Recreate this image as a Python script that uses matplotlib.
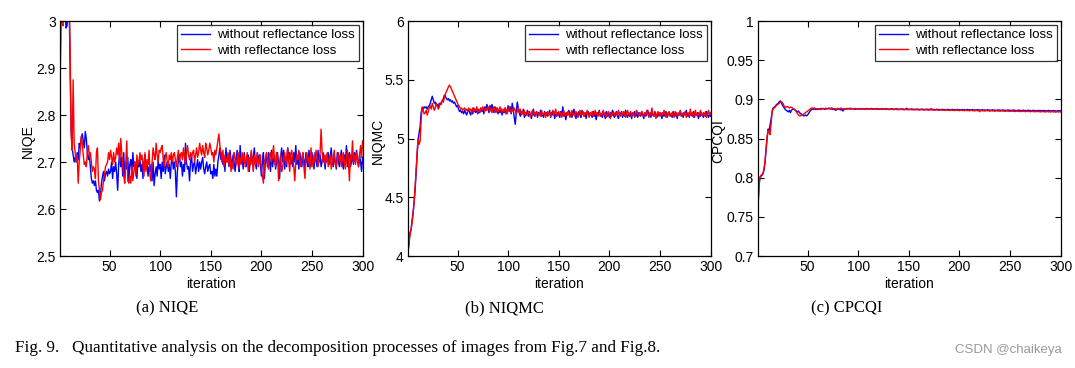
import numpy as np
import matplotlib
matplotlib.use("Agg")
import matplotlib.pyplot as plt

plt.rcParams['font.family'] = ['Liberation Sans', 'DejaVu Sans']

# NIQE, without / with reflectance loss
niqe_without = [
    2.843, 3.05, 3.10, 3.08, 3.06, 3.02, 2.985, 2.99, 3.03, 3.05,
    2.90, 2.77, 2.73, 2.715, 2.70, 2.71, 2.70, 2.72, 2.705, 2.74,
    2.73, 2.75, 2.76, 2.745, 2.73, 2.765, 2.75, 2.72, 2.705, 2.715,
    2.69, 2.665, 2.655, 2.66, 2.65, 2.66, 2.64, 2.635, 2.64, 2.617,
    2.63, 2.655, 2.67, 2.68, 2.66, 2.675, 2.68, 2.67, 2.685, 2.675,
    2.68, 2.70, 2.665, 2.69, 2.68, 2.70, 2.675, 2.64, 2.695, 2.72,
    2.69, 2.71, 2.67, 2.72, 2.665, 2.70, 2.685, 2.71, 2.66, 2.695,
    2.705, 2.675, 2.72, 2.69, 2.70, 2.68, 2.665, 2.70, 2.69, 2.705,
    2.68, 2.695, 2.665, 2.70, 2.715, 2.685, 2.70, 2.67, 2.69, 2.68,
    2.695, 2.66, 2.70, 2.65, 2.675, 2.69, 2.67, 2.705, 2.685, 2.695,
    2.665, 2.70, 2.68, 2.715, 2.675, 2.69, 2.70, 2.68, 2.695, 2.665,
    2.70, 2.71, 2.685, 2.70, 2.68, 2.626, 2.68, 2.705, 2.715, 2.69,
    2.70, 2.67, 2.695, 2.68, 2.74, 2.70, 2.685, 2.69, 2.66, 2.70,
    2.715, 2.68, 2.695, 2.70, 2.675, 2.69, 2.705, 2.68, 2.70, 2.685,
    2.70, 2.71, 2.685, 2.675, 2.69, 2.70, 2.68, 2.69, 2.695, 2.675,
    2.68, 2.665, 2.695, 2.67, 2.685, 2.67, 2.70, 2.715, 2.73, 2.705,
    2.72, 2.695, 2.71, 2.68, 2.73, 2.70, 2.715, 2.69, 2.725, 2.705,
    2.69, 2.715, 2.70, 2.68, 2.70, 2.725, 2.695, 2.68, 2.735, 2.70,
    2.71, 2.685, 2.72, 2.70, 2.69, 2.705, 2.715, 2.68, 2.70, 2.72,
    2.695, 2.71, 2.73, 2.70, 2.685, 2.72, 2.70, 2.715, 2.695, 2.67,
    2.70, 2.72, 2.665, 2.705, 2.71, 2.69, 2.72, 2.70, 2.68, 2.725,
    2.69, 2.705, 2.715, 2.685, 2.70, 2.72, 2.695, 2.665, 2.71, 2.73,
    2.70, 2.725, 2.685, 2.71, 2.69, 2.73, 2.705, 2.72, 2.695, 2.71,
    2.69, 2.72, 2.70, 2.735, 2.695, 2.71, 2.685, 2.72, 2.70, 2.69,
    2.715, 2.705, 2.685, 2.72, 2.70, 2.69, 2.725, 2.705, 2.69, 2.72,
    2.70, 2.685, 2.72, 2.705, 2.69, 2.725, 2.70, 2.715, 2.69, 2.70,
    2.72, 2.705, 2.685, 2.715, 2.70, 2.72, 2.695, 2.71, 2.73, 2.70,
    2.69, 2.715, 2.70, 2.685, 2.72, 2.705, 2.69, 2.71, 2.725, 2.70,
    2.685, 2.715, 2.70, 2.735, 2.69, 2.71, 2.72, 2.69, 2.70, 2.715,
    2.695, 2.72, 2.70, 2.725, 2.705, 2.69, 2.715, 2.70, 2.68, 2.71,
]
niqe_with = [
    2.843, 3.02, 2.995, 2.99, 3.03, 3.05, 3.06, 3.04, 3.03, 3.06,
    2.94, 2.76, 2.725, 2.875, 2.74, 2.72, 2.70, 2.715, 2.655, 2.70,
    2.725, 2.755, 2.74, 2.715, 2.695, 2.70, 2.69, 2.72, 2.735, 2.71,
    2.72, 2.70, 2.68, 2.69, 2.685, 2.665, 2.72, 2.73, 2.66, 2.64,
    2.62, 2.635, 2.64, 2.66, 2.675, 2.69, 2.695, 2.70, 2.72, 2.705,
    2.725, 2.71, 2.695, 2.72, 2.70, 2.71, 2.73, 2.715, 2.74, 2.70,
    2.75, 2.72, 2.69, 2.67, 2.655, 2.70, 2.745, 2.66, 2.655, 2.67,
    2.655, 2.69, 2.66, 2.68, 2.70, 2.67, 2.715, 2.695, 2.70, 2.72,
    2.705, 2.715, 2.69, 2.67, 2.72, 2.68, 2.705, 2.695, 2.725, 2.67,
    2.66, 2.70, 2.73, 2.715, 2.705, 2.74, 2.715, 2.70, 2.725, 2.72,
    2.73, 2.735, 2.705, 2.69, 2.71, 2.72, 2.70, 2.69, 2.715, 2.705,
    2.72, 2.70, 2.715, 2.72, 2.705, 2.69, 2.71, 2.725, 2.70, 2.715,
    2.72, 2.705, 2.73, 2.71, 2.695, 2.72, 2.735, 2.715, 2.705, 2.72,
    2.71, 2.72, 2.725, 2.70, 2.715, 2.73, 2.71, 2.72, 2.74, 2.725,
    2.715, 2.735, 2.72, 2.71, 2.74, 2.73, 2.715, 2.725, 2.74, 2.73,
    2.715, 2.72, 2.70, 2.725, 2.715, 2.73, 2.745, 2.76, 2.735, 2.72,
    2.70, 2.725, 2.69, 2.715, 2.705, 2.70, 2.72, 2.695, 2.715, 2.68,
    2.70, 2.685, 2.72, 2.71, 2.695, 2.705, 2.72, 2.685, 2.71, 2.695,
    2.72, 2.70, 2.715, 2.69, 2.705, 2.72, 2.68, 2.71, 2.695, 2.725,
    2.70, 2.68, 2.715, 2.695, 2.70, 2.72, 2.69, 2.705, 2.715, 2.685,
    2.67, 2.655, 2.695, 2.71, 2.72, 2.70, 2.685, 2.715, 2.72, 2.70,
    2.715, 2.735, 2.705, 2.69, 2.72, 2.71, 2.66, 2.70, 2.715, 2.68,
    2.69, 2.705, 2.72, 2.695, 2.71, 2.73, 2.70, 2.68, 2.715, 2.725,
    2.705, 2.69, 2.66, 2.70, 2.715, 2.705, 2.725, 2.70, 2.69, 2.71,
    2.72, 2.69, 2.665, 2.705, 2.72, 2.70, 2.71, 2.685, 2.73, 2.705,
    2.69, 2.715, 2.70, 2.725, 2.71, 2.69, 2.705, 2.72, 2.77, 2.72,
    2.70, 2.715, 2.695, 2.705, 2.72, 2.69, 2.705, 2.715, 2.685, 2.70,
    2.71, 2.725, 2.695, 2.69, 2.705, 2.72, 2.70, 2.715, 2.69, 2.705,
    2.72, 2.70, 2.685, 2.71, 2.725, 2.70, 2.66, 2.715, 2.705, 2.745,
    2.70, 2.715, 2.695, 2.72, 2.705, 2.69, 2.715, 2.735, 2.71, 2.745,
]

# NIQMC
niqmc_without = [
    4.03, 4.12, 4.20, 4.22, 4.30, 4.37, 4.45, 4.55, 4.70, 4.85,
    4.98, 5.05, 5.10, 5.22, 5.26, 5.25, 5.27, 5.26, 5.27, 5.25,
    5.27, 5.28, 5.30, 5.33, 5.36, 5.33, 5.30, 5.31, 5.28, 5.29,
    5.27, 5.30, 5.29, 5.31, 5.32, 5.34, 5.37, 5.36, 5.34, 5.33,
    5.34, 5.32, 5.33, 5.31, 5.32, 5.30, 5.31, 5.29, 5.27, 5.28,
    5.25, 5.23, 5.24, 5.22, 5.23, 5.21, 5.24, 5.22, 5.20, 5.23,
    5.25, 5.22, 5.20, 5.24, 5.21, 5.26, 5.23, 5.22, 5.25, 5.21,
    5.24, 5.22, 5.26, 5.23, 5.25, 5.21, 5.27, 5.24, 5.29, 5.26,
    5.22, 5.28, 5.25, 5.29, 5.24, 5.22, 5.27, 5.23, 5.26, 5.21,
    5.24, 5.22, 5.25, 5.20, 5.23, 5.22, 5.26, 5.21, 5.24, 5.28,
    5.23, 5.27, 5.21, 5.30, 5.25, 5.18, 5.12, 5.22, 5.31, 5.26,
    5.22, 5.19, 5.23, 5.21, 5.25, 5.18, 5.22, 5.20, 5.24, 5.19,
    5.23, 5.20, 5.17, 5.22, 5.25, 5.19, 5.21, 5.23, 5.18, 5.22,
    5.20, 5.24, 5.19, 5.21, 5.18, 5.23, 5.20, 5.22, 5.19, 5.21,
    5.24, 5.18, 5.22, 5.20, 5.23, 5.17, 5.21, 5.19, 5.22, 5.20,
    5.18, 5.23, 5.20, 5.27, 5.19, 5.21, 5.16, 5.22, 5.20, 5.24,
    5.19, 5.22, 5.18, 5.21, 5.25, 5.20, 5.17, 5.22, 5.19, 5.23,
    5.20, 5.18, 5.24, 5.21, 5.19, 5.22, 5.17, 5.21, 5.23, 5.19,
    5.22, 5.20, 5.18, 5.23, 5.19, 5.21, 5.16, 5.22, 5.20, 5.24,
    5.19, 5.21, 5.18, 5.22, 5.20, 5.17, 5.23, 5.19, 5.21, 5.18,
    5.22, 5.19, 5.24, 5.20, 5.18, 5.21, 5.23, 5.19, 5.17, 5.22,
    5.20, 5.23, 5.18, 5.21, 5.19, 5.24, 5.20, 5.18, 5.22, 5.19,
    5.21, 5.17, 5.22, 5.20, 5.23, 5.19, 5.21, 5.18, 5.22, 5.20,
    5.19, 5.23, 5.20, 5.17, 5.22, 5.19, 5.21, 5.24, 5.19, 5.21,
    5.18, 5.22, 5.20, 5.19, 5.23, 5.20, 5.18, 5.21, 5.19, 5.22,
    5.20, 5.17, 5.22, 5.19, 5.21, 5.23, 5.18, 5.20, 5.22, 5.19,
    5.21, 5.18, 5.23, 5.20, 5.19, 5.22, 5.17, 5.21, 5.20, 5.23,
    5.19, 5.21, 5.18, 5.22, 5.20, 5.24, 5.19, 5.21, 5.18, 5.22,
    5.20, 5.19, 5.23, 5.18, 5.21, 5.20, 5.22, 5.17, 5.21, 5.19,
    5.22, 5.20, 5.18, 5.21, 5.19, 5.23, 5.20, 5.18, 5.21, 5.19,
]
niqmc_with = [
    4.03, 4.10, 4.18, 4.22, 4.28, 4.35, 4.45, 4.58, 4.72, 4.88,
    5.00, 4.95, 4.98, 5.15, 5.27, 5.24, 5.21, 5.22, 5.24, 5.20,
    5.23, 5.26, 5.28, 5.25, 5.30, 5.27, 5.24, 5.26, 5.30, 5.28,
    5.25, 5.27, 5.30, 5.29, 5.33, 5.31, 5.35, 5.38, 5.40, 5.42,
    5.44, 5.455, 5.44, 5.42, 5.40, 5.38, 5.36, 5.34, 5.32, 5.30,
    5.28, 5.27, 5.25, 5.26, 5.24, 5.25, 5.26, 5.24, 5.25, 5.23,
    5.26, 5.24, 5.25, 5.22, 5.26, 5.23, 5.25, 5.24, 5.27, 5.22,
    5.25, 5.23, 5.26, 5.24, 5.27, 5.25, 5.23, 5.26, 5.24, 5.27,
    5.25, 5.23, 5.26, 5.22, 5.25, 5.27, 5.24, 5.22, 5.26, 5.23,
    5.25, 5.27, 5.24, 5.22, 5.25, 5.23, 5.26, 5.24, 5.21, 5.25,
    5.27, 5.24, 5.22, 5.25, 5.23, 5.26, 5.24, 5.21, 5.23, 5.26,
    5.22, 5.25, 5.20, 5.23, 5.21, 5.24, 5.19, 5.22, 5.20, 5.23,
    5.21, 5.18, 5.22, 5.24, 5.20, 5.22, 5.19, 5.23, 5.21, 5.20,
    5.22, 5.19, 5.24, 5.21, 5.20, 5.22, 5.18, 5.21, 5.23, 5.20,
    5.22, 5.19, 5.21, 5.24, 5.20, 5.22, 5.25, 5.19, 5.21, 5.23,
    5.20, 5.22, 5.18, 5.21, 5.24, 5.19, 5.22, 5.20, 5.23, 5.21,
    5.18, 5.22, 5.24, 5.20, 5.21, 5.19, 5.23, 5.21, 5.18, 5.22,
    5.24, 5.20, 5.21, 5.23, 5.19, 5.22, 5.20, 5.24, 5.21, 5.18,
    5.22, 5.20, 5.23, 5.19, 5.21, 5.24, 5.20, 5.22, 5.19, 5.23,
    5.21, 5.19, 5.22, 5.24, 5.20, 5.22, 5.18, 5.21, 5.23, 5.20,
    5.17, 5.22, 5.20, 5.23, 5.21, 5.19, 5.22, 5.20, 5.24, 5.21,
    5.19, 5.22, 5.20, 5.23, 5.21, 5.18, 5.22, 5.24, 5.20, 5.21,
    5.23, 5.19, 5.22, 5.20, 5.18, 5.22, 5.24, 5.21, 5.19, 5.22,
    5.20, 5.23, 5.21, 5.19, 5.22, 5.20, 5.24, 5.21, 5.18, 5.22,
    5.20, 5.26, 5.21, 5.19, 5.22, 5.17, 5.21, 5.23, 5.20, 5.22,
    5.19, 5.22, 5.20, 5.24, 5.21, 5.18, 5.22, 5.20, 5.23, 5.21,
    5.19, 5.22, 5.20, 5.18, 5.23, 5.21, 5.19, 5.22, 5.20, 5.24,
    5.21, 5.19, 5.22, 5.20, 5.23, 5.18, 5.21, 5.22, 5.19, 5.25,
    5.20, 5.22, 5.18, 5.21, 5.24, 5.20, 5.19, 5.22, 5.20, 5.24,
    5.21, 5.19, 5.22, 5.20, 5.23, 5.18, 5.21, 5.24, 5.20, 5.22,
]

# CPCQI
cpcqi_without = [
    0.761, 0.790, 0.800, 0.802, 0.803, 0.805, 0.810, 0.820, 0.835, 0.850,
    0.862, 0.860, 0.868, 0.875, 0.885, 0.889, 0.890, 0.891, 0.893, 0.894,
    0.895, 0.897, 0.898, 0.896, 0.893, 0.891, 0.889, 0.887, 0.886, 0.885,
    0.884, 0.886, 0.883, 0.886, 0.887, 0.888, 0.887, 0.886, 0.885, 0.884,
    0.885, 0.883, 0.882, 0.881, 0.880, 0.879, 0.879, 0.880, 0.879, 0.880,
    0.882, 0.884, 0.886, 0.887, 0.888, 0.887, 0.888, 0.887, 0.888, 0.887,
    .8875, .8880, .8870, .8885, .8878, .8882, .8872, .8880, .8876, .8884,
    .8878, .8885, .8874, .8880, .8870, .8876, .8866, .8860, .8872, .8880,
    .8876, .8870, .8864, .8875, .8850, .8872, .8878, .8874, .8880, .8876,
    .8882, .8874, .8878, .8884, .8876, .8880, .8872, .8878, .8882, .8875,
    .8880, .8874, .8878, .8883, .8876, .8880, .8873, .8879, .8884, .8877,
    .8872, .8879, .8884, .8876, .8881, .8874, .8878, .8883, .8875, .8880,
    .8873, .8878, .8882, .8875, .8879, .8872, .8877, .8881, .8874, .8878,
    .8871, .8876, .8880, .8874, .8878, .8870, .8876, .8881, .8873, .8877,
    .8870, .8875, .8879, .8872, .8877, .8869, .8874, .8886, .8872, .8876,
    .8870, .8874, .8878, .8871, .8876, .8868, .8873, .8877, .8870, .8875,
    .8868, .8873, .8877, .8870, .8874, .8867, .8872, .8876, .8869, .8874,
    .8867, .8871, .8875, .8868, .8873, .8866, .8871, .8875, .8867, .8872,
    .8865, .8870, .8874, .8867, .8871, .8864, .8869, .8873, .8866, .8871,
    .8864, .8869, .8873, .8866, .8870, .8863, .8868, .8872, .8865, .8869,
    .8863, .8867, .8871, .8864, .8869, .8862, .8867, .8871, .8864, .8868,
    .8861, .8866, .8870, .8863, .8867, .8860, .8865, .8869, .8862, .8866,
    .8860, .8864, .8868, .8861, .8866, .8859, .8864, .8868, .8861, .8865,
    .8858, .8863, .8867, .8860, .8864, .8857, .8862, .8866, .8859, .8864,
    .8857, .8861, .8865, .8858, .8863, .8856, .8861, .8865, .8858, .8862,
    .8855, .8860, .8864, .8857, .8861, .8854, .8859, .8863, .8856, .8861,
    .8854, .8858, .8862, .8855, .8860, .8853, .8858, .8862, .8855, .8859,
    .8852, .8857, .8861, .8854, .8858, .8851, .8856, .8860, .8853, .8858,
    .8851, .8855, .8859, .8852, .8857, .8850, .8855, .8859, .8852, .8856,
    .8849, .8854, .8858, .8851, .8855, .8848, .8853, .8857, .8850, .8855,
]
cpcqi_with = [
    0.761, 0.792, 0.801, 0.803, 0.804, 0.806, 0.812, 0.822, 0.838, 0.852,
    0.860, 0.858, 0.855, 0.870, 0.884, 0.888, 0.889, 0.890, 0.892, 0.893,
    0.894, 0.895, 0.896, 0.897, 0.896, 0.894, 0.891, 0.890, 0.890, 0.891,
    0.890, 0.889, 0.890, 0.890, 0.889, 0.888, 0.887, 0.886, 0.884, 0.882,
    0.880, 0.879, 0.879, 0.880, 0.880, 0.881, 0.882, 0.883, 0.884, 0.885,
    0.886, 0.887, 0.888, 0.889, 0.889, 0.888, 0.889, 0.888, 0.887, 0.888,
    .8880, .8874, .8884, .8878, .8885, .8876, .8882, .8888, .8879, .8885,
    .8890, .8880, .8886, .8892, .8882, .8877, .8883, .8874, .8880, .8886,
    .8878, .8884, .8889, .8880, .8876, .8882, .8874, .8880, .8885, .8878,
    .8884, .8888, .8879, .8883, .8876, .8881, .8886, .8877, .8882, .8875,
    .8880, .8884, .8876, .8881, .8874, .8879, .8883, .8875, .8880, .8873,
    .8878, .8882, .8874, .8879, .8872, .8877, .8881, .8873, .8878, .8871,
    .8876, .8880, .8872, .8877, .8870, .8875, .8879, .8871, .8876, .8869,
    .8874, .8878, .8870, .8875, .8868, .8873, .8877, .8869, .8874, .8867,
    .8872, .8876, .8868, .8873, .8866, .8871, .8875, .8867, .8872, .8865,
    .8870, .8874, .8866, .8871, .8864, .8869, .8873, .8865, .8870, .8863,
    .8868, .8872, .8864, .8869, .8862, .8867, .8871, .8863, .8868, .8861,
    .8866, .8884, .8862, .8867, .8860, .8865, .8869, .8861, .8866, .8859,
    .8864, .8868, .8860, .8865, .8858, .8863, .8867, .8859, .8864, .8857,
    .8862, .8866, .8858, .8863, .8856, .8861, .8865, .8857, .8862, .8855,
    .8860, .8864, .8856, .8861, .8854, .8859, .8863, .8855, .8860, .8853,
    .8858, .8862, .8854, .8859, .8852, .8857, .8861, .8853, .8858, .8842,
    .8856, .8860, .8852, .8857, .8850, .8855, .8859, .8851, .8856, .8849,
    .8854, .8858, .8850, .8855, .8848, .8853, .8857, .8849, .8854, .8847,
    .8852, .8856, .8848, .8853, .8846, .8851, .8855, .8847, .8852, .8845,
    .8850, .8854, .8846, .8851, .8844, .8849, .8853, .8845, .8850, .8843,
    .8848, .8852, .8844, .8849, .8842, .8847, .8851, .8843, .8848, .8841,
    .8846, .8850, .8842, .8847, .8840, .8845, .8849, .8841, .8846, .8839,
    .8844, .8848, .8840, .8845, .8838, .8843, .8847, .8839, .8844, .8837,
    .8842, .8846, .8838, .8843, .8836, .8841, .8845, .8837, .8842, .8840,
]

metrics = ["NIQE", "NIQMC", "CPCQI"]
captions = ["(a) NIQE", "(b) NIQMC", "(c) CPCQI"]
series = [(niqe_without, niqe_with), (niqmc_without, niqmc_with), (cpcqi_without, cpcqi_with)]
ylims = [(2.5, 3.0), (4.0, 6.0), (0.7, 1.0)]
yticks = [np.arange(2.5, 3.01, 0.1), np.arange(4.0, 6.01, 0.5), np.arange(0.7, 1.001, 0.05)]
ytick_labels = [["2.5", "2.6", "2.7", "2.8", "2.9", "3"],
                ["4", "4.5", "5", "5.5", "6"],
                ["0.7", "0.75", "0.8", "0.85", "0.9", "0.95", "1"]]
legend_labels = ["without reflectance loss", "with reflectance loss"]

fig = plt.figure(figsize=(10.75, 3.68), dpi=100)
lefts = [0.0558, 0.3795, 0.7051]
ylabel_x = [-0.083, -0.076, -0.109]
caption_x = [0.155, 0.469, 0.788]

for i in range(3):
    ax = fig.add_axes([lefts[i], 0.3043, 0.2815, 0.6386])
    without, withr = series[i]
    ax.plot(np.arange(1, len(without) + 1), without, color='#0000ff', lw=1.0, label=legend_labels[0])
    ax.plot(np.arange(1, len(withr) + 1), withr, color='#ff0000', lw=1.0, label=legend_labels[1])
    ax.set_xlim(1, 300)
    ax.set_ylim(*ylims[i])
    ax.set_xticks([50, 100, 150, 200, 250, 300])
    ax.set_yticks(yticks[i])
    ax.set_yticklabels(ytick_labels[i])
    ax.tick_params(direction='in', top=True, right=True, length=4, width=0.8,
                   labelsize=10, pad=3)
    for s in ax.spines.values():
        s.set_linewidth(0.9)
    ax.set_xlabel("iteration", fontsize=10, labelpad=2)
    ax.set_ylabel(metrics[i], fontsize=10)
    ax.yaxis.set_label_coords(ylabel_x[i], 0.49)
    lg = ax.legend(loc='upper right', fontsize=9.5, frameon=True, fancybox=False,
                   edgecolor='black', handlelength=2.2, handletextpad=0.5,
                   borderpad=0.3, labelspacing=0.25, borderaxespad=0.3)
    lg.get_frame().set_linewidth(0.9)
    fig.text(caption_x[i], 0.163, captions[i], ha='center', va='center',
             fontsize=12, family='Liberation Serif')

fig.text(0.014, 0.054, "Fig. 9.   Quantitative analysis on the decomposition processes of images from Fig.7 and Fig.8.",
         ha='left', va='center', fontsize=12.3, family='Liberation Serif')
fig.text(0.888, 0.048, "CSDN @chaikeya", ha='left', va='center', fontsize=9.5, color='#999999')

fig.savefig("out.png", dpi=100)
